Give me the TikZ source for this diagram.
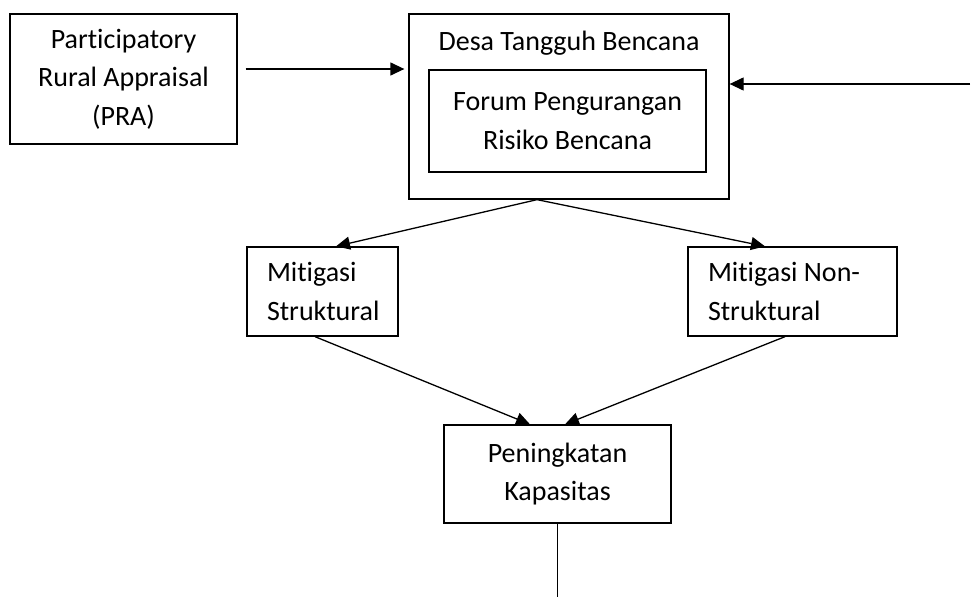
\documentclass[tikz,border=0pt]{standalone}
\usepackage{fontspec}
\setmainfont[Ligatures=NoCommon]{Carlito}
\usetikzlibrary{arrows.meta}
\tikzset{box/.style={draw,line width=1.3pt,inner sep=0pt,align=center,
		font=\fontsize{28}{38.5}\selectfont},
	leftbox/.style={box,align=flush left,inner xsep=20pt,text width=#1},
	arr/.style={line width=1.3pt,-{Triangle[length=14pt,width=13pt]}}}

\begin{document}
\begin{tikzpicture}[x=1pt,y=-1pt]
	\useasboundingbox (0,0) rectangle (971,597);
	
	% Boxes
	\node[box,minimum width=227pt,minimum height=130pt] (pra) at (123.5,79) {Participatory\\Rural Appraisal\\(PRA)};
	\node[box,minimum width=320pt,minimum height=185pt] (desa) at (569,106.5) {};
	\node[font=\fontsize{28}{38.5}\selectfont] (desatitle) at (569,43) {Desa Tangguh Bencana};
	\node[box,minimum width=277pt,minimum height=102pt] (forum) at (567.5,121) {Forum Pengurangan\\Risiko Bencana};
	\node[leftbox=111pt,minimum height=89pt] (mits) at (322.5,291.5) {Mitigasi\\Struktural};
	\node[leftbox=169pt,minimum height=89pt] (mitn) at (792.5,291.5) {Mitigasi Non-\\Struktural};
	\node[box,minimum width=227pt,minimum height=98pt] (kapasitas) at (557.5,474) {Peningkatan\\Kapasitas};
	
	\coordinate (luar) at (970,84);
	\coordinate (bawah) at (557.5,597);
	\coordinate (pisah) at ([xshift=-32pt]desa.south);
	
	% Arrows
	\draw[arr,shorten >=12pt] ([shift={(8pt,10pt)}]pra.east) -- ([shift={(8pt,10pt)}]pra.east -| desa.west);
	\draw[arr] (luar) -- (luar -| desa.east);
	\draw[arr] (pisah) -- ([xshift=13.5pt]mits.north);
	\draw[arr] (pisah) -- ([xshift=-27.5pt]mitn.north);
	\draw[arr] ([xshift=-7.5pt]mits.south) -- ([xshift=-27.5pt]kapasitas.north);
	\draw[arr] ([xshift=-7.5pt]mitn.south) -- ([xshift=7.5pt]kapasitas.north);
	\draw[line width=1.3pt] (kapasitas.south) -- (bawah);
\end{tikzpicture}
\end{document}
